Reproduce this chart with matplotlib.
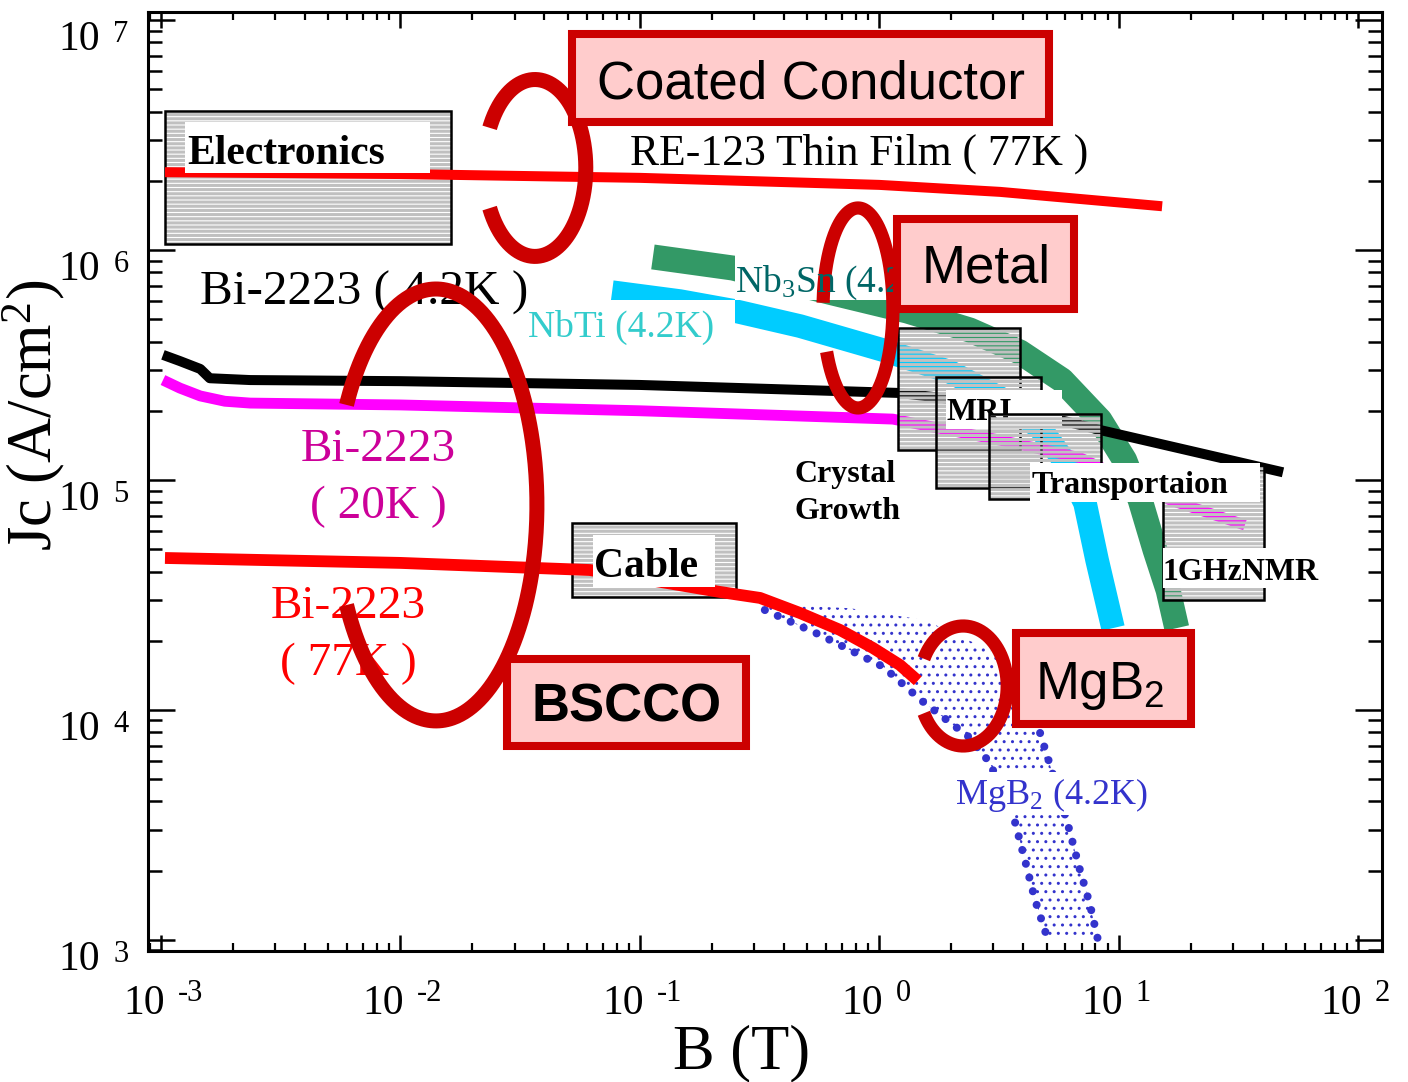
import numpy as np
import matplotlib
matplotlib.use('Agg')
import matplotlib.pyplot as plt
from matplotlib.patches import Rectangle
from matplotlib.ticker import LogLocator, NullFormatter

plt.rcParams['font.family'] = 'Liberation Serif'
plt.rcParams['mathtext.default'] = 'regular'

# --- critical current density curves, B in tesla, Jc in A/cm^2 ---
re123_B = [1.04e-3, 0.01, 0.1, 1.0, 3.2, 15.2]
re123_Jc = [2.18e6, 2.14e6, 2.06e6, 1.92e6, 1.79e6, 1.55e6]

bi42_B = [1.02e-3, 1.20e-3, 1.46e-3, 1.60e-3, 2.36e-3, 0.01, 0.1, 1.22, 3.2, 8.36, 48.6]
bi42_Jc = [3.50e5, 3.29e5, 3.04e5, 2.77e5, 2.72e5, 2.69e5, 2.59e5, 2.39e5, 2.12e5, 1.65e5, 1.08e5]

bi20_B = [1.02e-3, 1.20e-3, 1.46e-3, 1.85e-3, 2.36e-3, 0.01, 0.1, 1.14, 3.2, 6.9, 16.4, 33.7]
bi20_Jc = [2.72e5, 2.51e5, 2.32e5, 2.20e5, 2.16e5, 2.12e5, 2.0e5, 1.84e5, 1.49e5, 1.25e5, 8.19e4, 6.37e4]

bi77_B = [1.04e-3, 0.01, 0.0619, 0.147, 0.216, 0.318, 0.467, 0.685, 0.942, 1.22, 1.45]
bi77_Jc = [4.58e4, 4.36e4, 4.06e4, 3.49e4, 3.26e4, 3.07e4, 2.64e4, 2.23e4, 1.86e4, 1.57e4, 1.34e4]

nbti_B = [0.0766, 0.147, 0.250, 0.467, 1.04, 1.98, 3.2, 4.70, 5.97, 7.24, 8.13, 9.48]
nbti_Jc = [6.56e5, 6.00e5, 5.43e5, 4.67e5, 3.67e5, 2.95e5, 2.27e5, 1.68e5, 1.20e5, 7.94e4, 4.49e4, 2.27e4]

nb3sn_B = [0.1135, 0.245, 0.641, 1.31, 2.39, 3.87, 5.80, 8.36, 10.6, 12.3, 14.2, 16.1, 17.5]
nb3sn_Jc = [9.33e5, 8.35e5, 6.50e5, 5.43e5, 4.49e5, 3.60e5, 2.72e5, 1.82e5, 1.22e5, 8.19e4, 4.96e4, 3.32e4, 2.27e4]

# MgB2 (4.2K) band: lower and upper edges
mgb2_low_B = [0.333, 0.566, 1.04, 1.50, 2.37, 2.90, 3.69, 4.06, 4.48, 5.07]
mgb2_low_Jc = [2.72e4, 2.12e4, 1.54e4, 1.10e4, 7.63e3, 5.89e3, 3.26e3, 2.23e3, 1.49e3, 1.0e3]
mgb2_high_B = [0.318, 0.755, 1.55, 2.90, 4.06, 4.70, 5.17, 6.15, 6.90, 7.60, 8.20]
mgb2_high_Jc = [2.89e4, 2.77e4, 2.46e4, 1.82e4, 1.10e4, 7.94e3, 5.77e3, 3.16e3, 2.01e3, 1.42e3, 1.0e3]

x_decades = [-3, -2, -1, 0, 1, 2]
y_decades = [3, 4, 5, 6, 7]

DARKRED = '#cc0000'

fig = plt.figure(figsize=(14.08, 10.82), dpi=100)
ax = fig.add_axes([0.1051, 0.1211, 0.8764, 0.8678])
ax.set_xscale('log')
ax.set_yscale('log')
ax.set_xlim(10 ** -3.054, 10 ** 2.100)
ax.set_ylim(10 ** 2.952, 10 ** 7.035)

for axis in (ax.xaxis, ax.yaxis):
    axis.set_major_locator(LogLocator(base=10, numticks=20))
    axis.set_minor_locator(LogLocator(base=10, subs=np.arange(2, 10), numticks=20))
    axis.set_major_formatter(NullFormatter())
    axis.set_minor_formatter(NullFormatter())
ax.tick_params(which='both', direction='in', top=True, right=True,
               labelbottom=False, labelleft=False)
ax.tick_params(axis='x', which='major', length=11.5, width=1.8)
ax.tick_params(axis='x', which='minor', length=6, width=1.6)
ax.tick_params(axis='y', which='major', length=19.5, width=1.8)
ax.tick_params(axis='y', which='minor', length=10, width=1.8)
for s in ax.spines.values():
    s.set_linewidth(2.2)

# decade labels: "10" plus a separate raised exponent
for e in x_decades:
    pos = dict(xy=(10.0 ** e, 0), xycoords=('data', 'axes fraction'), textcoords='offset points')
    ax.annotate('10', xytext=(3, -45.4), ha='right', va='baseline', fontsize=30, **pos)
    ax.annotate(str(e), xytext=(12, -36), ha='left', va='baseline', fontsize=22, **pos)
for e in y_decades:
    pos = dict(xy=(0, 10.0 ** e), xycoords=('axes fraction', 'data'), textcoords='offset points')
    ax.annotate('10', xytext=(-34.5, -21.6), ha='right', va='baseline', fontsize=30, **pos)
    ax.annotate(str(e), xytext=(-25, -15.8), ha='left', va='baseline', fontsize=22, **pos)

ax.text(0.4814, -0.1246, 'B (T)', transform=ax.transAxes, fontsize=45, ha='center', va='baseline')
ax.text(-0.0930, 0.5708, 'Jc (A/cm$^2$)', transform=ax.transAxes, fontsize=45,
        ha='center', va='center', rotation=90)


def app_box(b0, b1, j0, j1, z):
    hb = Rectangle((b0, j0), b1 - b0, j1 - j0, facecolor='none', edgecolor='#c0c0c0',
                   lw=0, hatch='----', zorder=z)
    if hasattr(hb, 'set_hatch_linewidth'):
        hb.set_hatch_linewidth(2.2)
    ax.add_patch(hb)
    ax.add_patch(Rectangle((b0, j0), b1 - b0, j1 - j0, fill=False, edgecolor='black',
                           lw=1.8, zorder=z))


def white_box(x0, y0, w, h, z):
    ax.add_patch(Rectangle((x0, y0), w, h, transform=ax.transAxes, facecolor='white',
                           edgecolor='none', zorder=z))


def ring(cx, cy, a, b, t0, t1, lw):
    t = np.radians(np.linspace(t0, t1, 400))
    ax.plot(cx + a * np.cos(t), cy + b * np.sin(t), transform=ax.transAxes, color=DARKRED,
            lw=lw, solid_capstyle='butt', zorder=7, clip_on=False)


def tag(x0, y0, w, h, text, tx, ty, weight='normal'):
    ax.add_patch(Rectangle((x0, y0), w, h, transform=ax.transAxes, facecolor='#ffcccc',
                           edgecolor=DARKRED, lw=5.8, zorder=8, clip_on=False))
    ax.text(tx, ty, text, transform=ax.transAxes, family='Liberation Sans', fontsize=38,
            weight=weight, ha='center', va='baseline', zorder=9)


plt.rcParams['hatch.linewidth'] = 2.2
# application boxes sitting under the curves
app_box(1.04e-3, 0.01625, 1.06e6, 4.02e6, 1)
app_box(0.0521, 0.252, 3.10e4, 6.50e4, 1)

# MgB2 band
plt.rcParams['hatch.linewidth'] = 1.0
band = ax.fill(list(mgb2_low_B) + mgb2_high_B[::-1], list(mgb2_low_Jc) + mgb2_high_Jc[::-1],
               facecolor='none', edgecolor='#3333cc', lw=0, hatch='..', zorder=1.5)[0]
if hasattr(band, 'set_hatch_linewidth'):
    band.set_hatch_linewidth(1.0)
dots = dict(ls=(0, (0.01, 1.75)), lw=5.8, color='#3333cc', dash_capstyle='round', zorder=1.6)
ax.plot(mgb2_low_B, mgb2_low_Jc, **dots)
ax.plot(mgb2_high_B[5:], mgb2_high_Jc[5:], **dots)

line = dict(solid_capstyle='butt', solid_joinstyle='round', zorder=3)
ax.plot(nb3sn_B, nb3sn_Jc, color='#339966', lw=18, **line)
ax.plot(nbti_B, nbti_Jc, color='#00ccff', lw=17, **line)
ax.plot(re123_B, re123_Jc, color='#ff0000', lw=7.2, **line)
ax.plot(bi42_B, bi42_Jc, color='black', lw=7.2, **line)
ax.plot(bi20_B, bi20_Jc, color='#ff00ff', lw=7.8, **line)
ax.plot(bi77_B, bi77_Jc, color='#ff0000', lw=8.5, **line)

plt.rcParams['hatch.linewidth'] = 2.2
# application boxes drawn over the curves
app_box(1.20, 3.87, 1.35e5, 4.58e5, 4.0)
app_box(1.73, 4.74, 9.23e4, 2.80e5, 4.1)
white_box(0.6467, 0.5559, 0.0940, 0.0415, 4.2)
ax.text(0.6475, 0.5655, 'MRI', transform=ax.transAxes, fontsize=23, weight='bold', zorder=4.25)
app_box(2.88, 8.44, 8.27e4, 1.94e5, 4.3)
app_box(15.3, 40.5, 3.01e4, 1.16e5, 4.4)
white_box(0.7147, 0.4782, 0.1864, 0.0415, 4.5)
ax.text(0.7164, 0.4878, 'Transportaion', transform=ax.transAxes, fontsize=23, weight='bold', zorder=4.55)
white_box(0.8225, 0.3866, 0.1273, 0.0426, 4.6)
ax.text(0.8225, 0.3951, '1GHzNMR', transform=ax.transAxes, fontsize=23, weight='bold', zorder=4.65)

white_box(0.0300, 0.8285, 0.1985, 0.0544, 4.5)
ax.text(0.0316, 0.8381, 'Electronics', transform=ax.transAxes, fontsize=30, weight='bold', zorder=4.6)
white_box(0.3606, 0.3876, 0.0989, 0.0554, 4.5)
ax.text(0.3614, 0.3983, 'Cable', transform=ax.transAxes, fontsize=30, weight='bold', zorder=4.6)
ax.text(0.5243, 0.4995, 'Crystal', transform=ax.transAxes, fontsize=23, weight='bold', zorder=4.6)
ax.text(0.5243, 0.4601, 'Growth', transform=ax.transAxes, fontsize=23, weight='bold', zorder=4.6)

# curve labels
white_box(0.3015, 0.6400, 0.1742, 0.0533, 4.5)
white_box(0.4757, 0.6933, 0.1337, 0.0522, 4.5)
ax.text(0.3079, 0.6539, 'NbTi (4.2K)', transform=ax.transAxes, fontsize=27, color='#33cccc', zorder=5)
ax.text(0.4757, 0.7018, 'Nb$_3$Sn (4.2K)', transform=ax.transAxes, fontsize=27, color='#006666', zorder=7.5)
ax.text(0.3906, 0.8371, 'RE-123 Thin Film ( 77K )', transform=ax.transAxes, fontsize=31.4, zorder=5)
ax.text(0.0421, 0.6880, 'Bi-2223 ( 4.2K )', transform=ax.transAxes, fontsize=35.5, zorder=5)
ax.text(0.1864, 0.5218, 'Bi-2223', transform=ax.transAxes, fontsize=34, color='#cc0099', ha='center', zorder=5)
ax.text(0.1864, 0.4611, '( 20K )', transform=ax.transAxes, fontsize=34, color='#cc0099', ha='center', zorder=5)
ax.text(0.1621, 0.3546, 'Bi-2223', transform=ax.transAxes, fontsize=34, color='#ff0000', ha='center', zorder=5)
ax.text(0.1621, 0.2939, '( 77K )', transform=ax.transAxes, fontsize=34, color='#ff0000', ha='center', zorder=5)
white_box(0.6499, 0.1448, 0.1661, 0.0458, 4.5)
ax.text(0.6540, 0.1565, 'MgB$_2$ (4.2K)', transform=ax.transAxes, fontsize=26, color='#3333cc', zorder=5)

# grouping rings and category tags
ring(0.3136, 0.8339, 0.0412, 0.0942, -153, 153, 10.8)
ring(0.5754, 0.6848, 0.0283, 0.1065, -154, 177, 9.5)
ring(0.2334, 0.4750, 0.0818, 0.2300, -152.4, 152.4, 10.8)
ring(0.6606, 0.2822, 0.0357, 0.0639, -153, 153, 9.5)

tag(0.3436, 0.8829, 0.3865, 0.0937, 'Coated Conductor', 0.5373, 0.9084)
tag(0.6070, 0.6837, 0.1434, 0.0959, 'Metal', 0.6791, 0.7114)
tag(0.2909, 0.2183, 0.1937, 0.0927, 'BSCCO', 0.3882, 0.2439, weight='bold')
tag(0.7034, 0.2417, 0.1418, 0.0970, 'MgB$_2$', 0.7715, 0.2684)

fig.savefig('out.png', dpi=100)
